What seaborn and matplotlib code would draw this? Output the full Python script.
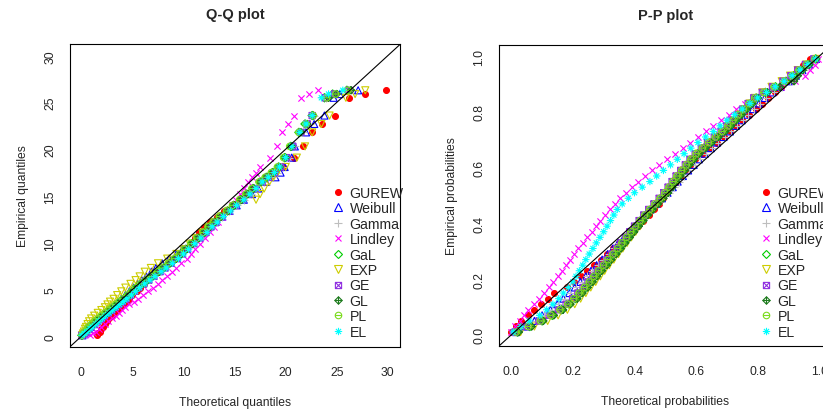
import seaborn as sns
import matplotlib.pyplot as plt
from matplotlib.path import Path
from matplotlib.lines import Line2D

models = ['GUREW', 'Weibull', 'Gamma', 'Lindley', 'GaL', 'EXP', 'GE', 'GL', 'PL', 'EL']

# Q-Q panel: sorted sample (empirical quantiles), shared by all models
qq_empirical = [0.1, 0.3, 0.5, 0.8, 1.0, 1.3, 1.6, 1.9, 2.2, 2.5, 2.8, 3.1, 3.4, 3.7, 4.0, 4.4, 4.8,
                5.2, 5.6, 6.0, 6.4, 6.9, 7.3, 7.8, 8.3, 8.8, 9.3, 9.9, 10.5, 11.1, 11.7, 12.2, 12.8,
                13.4, 14.0, 14.6, 15.2, 15.8, 16.5, 17.0, 17.5, 18.1, 19.1, 20.3, 21.8, 22.7, 23.6,
                25.5, 25.9, 26.3]

# theoretical quantiles of each fitted model
qq_gurew = [1.55, 1.65, 1.8, 1.95, 2.1, 2.3, 2.5, 2.7, 2.95, 3.2, 3.45, 3.75, 4.05, 4.35, 4.65, 5.0,
            5.4, 5.75, 6.15, 6.55, 6.95, 7.45, 7.9, 8.45, 9.0, 9.55, 10.05, 10.6, 11.1, 11.5, 12.0,
            12.6, 13.3, 14.0, 14.7, 15.4, 16.1, 16.8, 17.5, 18.1, 18.7, 19.7, 20.8, 21.7, 22.6,
            23.6, 24.8, 26.2, 27.8, 29.8]
qq_weibull = [0.1, 0.3, 0.5, 0.75, 0.95, 1.2, 1.5, 1.8, 2.1, 2.4, 2.7, 3.0, 3.3, 3.6, 3.9, 4.3, 4.7,
              5.1, 5.5, 5.9, 6.35, 6.85, 7.3, 7.9, 8.6, 9.3, 9.9, 10.6, 11.2, 11.9, 12.5, 13.1, 13.8,
              14.5, 15.2, 15.9, 16.7, 17.3, 18.1, 19.0, 19.5, 19.9, 20.6, 20.9, 22.0, 22.8, 23.8,
              24.7, 25.3, 27.1]
qq_gamma = [0.08, 0.3, 0.52, 0.8, 1.0, 1.3, 1.6, 1.9, 2.2, 2.55, 2.9, 3.2, 3.5, 3.85, 4.2, 4.6, 5.0,
            5.4, 5.85, 6.3, 6.8, 7.3, 7.8, 8.4, 9.0, 9.6, 10.2, 10.8, 11.4, 12.1, 12.6, 13.2, 13.8,
            14.5, 15.2, 15.9, 16.6, 17.2, 17.9, 18.6, 19.2, 19.7, 20.3, 20.9, 21.7, 22.4, 22.8,
            24.0, 24.7, 26.0]
qq_lindley = [0.8, 1.1, 1.4, 1.7, 1.95, 2.3, 2.65, 3.0, 3.35, 3.65, 3.95, 4.3, 4.7, 5.1, 5.5, 6.0,
              6.5, 7.0, 7.45, 7.9, 8.4, 8.9, 9.3, 9.8, 10.3, 10.7, 11.1, 11.6, 12.1, 12.6, 13.0,
              13.4, 13.8, 14.3, 14.7, 15.1, 15.5, 15.9, 16.3, 16.7, 17.1, 17.5, 18.5, 19.2, 19.6,
              20.2, 20.8, 21.5, 22.3, 23.2]
qq_gal = [0.05, 0.2, 0.4, 0.65, 0.8, 1.1, 1.4, 1.75, 2.05, 2.4, 2.75, 3.1, 3.45, 3.8, 4.15, 4.6, 5.0,
          5.4, 5.9, 6.4, 6.9, 7.5, 8.0, 8.6, 9.2, 9.7, 10.2, 10.8, 11.4, 12.0, 12.5, 13.0, 13.6,
          14.3, 14.9, 15.6, 16.2, 16.8, 17.5, 18.1, 18.7, 19.3, 19.9, 20.5, 21.3, 21.9, 22.6,
          23.8, 24.6, 26.0]
qq_exp = [0.05, 0.15, 0.25, 0.35, 0.45, 0.6, 0.75, 0.95, 1.25, 1.6, 1.95, 2.3, 2.55, 2.8, 3.15, 3.5,
          3.9, 4.3, 4.8, 5.3, 5.7, 6.2, 6.8, 7.5, 8.4, 9.3, 10.0, 10.6, 11.2, 11.8, 12.4, 13.0,
          13.7, 14.4, 15.2, 17.1, 17.5, 17.9, 18.4, 18.8, 19.2, 20.0, 21.1, 21.9, 22.6, 23.5,
          24.3, 25.9, 26.8, 27.8]
qq_ge = [0.05, 0.28, 0.5, 0.78, 0.97, 1.3, 1.6, 1.95, 2.25, 2.6, 2.95, 3.3, 3.65, 4.0, 4.35, 4.8,
         5.2, 5.6, 6.1, 6.6, 7.1, 7.7, 8.2, 8.8, 9.4, 9.9, 10.4, 11.0, 11.6, 12.2, 12.7, 13.2, 13.8,
         14.5, 15.1, 15.8, 16.4, 17.0, 17.7, 18.3, 18.9, 19.5, 20.1, 20.7, 21.5, 22.1, 22.6, 23.9,
         24.8, 26.2]
qq_gl = [0.05, 0.25, 0.45, 0.7, 0.9, 1.2, 1.5, 1.85, 2.15, 2.5, 2.85, 3.2, 3.55, 3.9, 4.25, 4.7,
         5.1, 5.5, 6.0, 6.5, 7.0, 7.6, 8.1, 8.7, 9.3, 9.8, 10.3, 10.9, 11.5, 12.1, 12.6, 13.1, 13.7,
         14.4, 15.0, 15.7, 16.3, 16.9, 17.6, 18.2, 18.8, 19.4, 20.0, 20.6, 21.5, 22.1, 22.7, 24.2,
         25.0, 26.4]
qq_pl = [0.05, 0.15, 0.35, 0.55, 0.7, 1.0, 1.3, 1.65, 1.95, 2.3, 2.65, 3.0, 3.35, 3.7, 4.05, 4.5,
         4.9, 5.3, 5.8, 6.3, 6.8, 7.4, 7.9, 8.5, 9.1, 9.6, 10.1, 10.7, 11.3, 11.9, 12.4, 12.9, 13.5,
         14.2, 14.8, 15.5, 16.1, 16.7, 17.4, 18.0, 18.6, 19.2, 19.8, 20.4, 21.3, 22.0, 22.7, 24.0,
         24.9, 26.1]
qq_el = [0.05, 0.3, 0.55, 0.85, 1.05, 1.4, 1.7, 2.05, 2.35, 2.7, 3.05, 3.4, 3.75, 4.1, 4.45, 4.9,
         5.3, 5.7, 6.2, 6.7, 7.2, 7.8, 8.3, 8.9, 9.5, 10.0, 10.5, 11.1, 11.7, 12.3, 12.8, 13.3, 13.9,
         14.6, 15.2, 15.9, 16.5, 17.1, 17.7, 18.3, 18.9, 19.4, 20.0, 20.6, 21.4, 22.0, 22.6, 23.5,
         24.2, 25.6]

# P-P panel: empirical probabilities, shared by all models
pp_empirical = [0.01, 0.03, 0.05, 0.07, 0.09, 0.11, 0.13, 0.15, 0.17, 0.19, 0.21, 0.23, 0.25, 0.27,
                0.29, 0.31, 0.33, 0.35, 0.37, 0.39, 0.41, 0.43, 0.45, 0.47, 0.49, 0.51, 0.53, 0.55,
                0.57, 0.59, 0.61, 0.63, 0.65, 0.67, 0.69, 0.71, 0.73, 0.75, 0.77, 0.79, 0.81, 0.83,
                0.85, 0.87, 0.89, 0.91, 0.93, 0.95, 0.97, 0.99]

# theoretical probabilities of each fitted model
pp_gurew = [0.0, 0.014, 0.033, 0.054, 0.075, 0.096, 0.118, 0.14, 0.18, 0.202, 0.225, 0.247, 0.268,
            0.29, 0.31, 0.33, 0.35, 0.37, 0.39, 0.41, 0.428, 0.446, 0.462, 0.478, 0.493, 0.504,
            0.519, 0.535, 0.55, 0.565, 0.581, 0.596, 0.619, 0.644, 0.667, 0.689, 0.71, 0.73, 0.75,
            0.772, 0.794, 0.815, 0.835, 0.855, 0.875, 0.895, 0.912, 0.929, 0.946, 0.97]
pp_weibull = [0.015, 0.045, 0.075, 0.10, 0.127, 0.149, 0.169, 0.188, 0.206, 0.224, 0.242, 0.259,
              0.277, 0.295, 0.313, 0.33, 0.347, 0.365, 0.382, 0.399, 0.417, 0.434, 0.452, 0.471,
              0.489, 0.507, 0.524, 0.54, 0.557, 0.574, 0.592, 0.609, 0.628, 0.648, 0.668, 0.689,
              0.71, 0.729, 0.748, 0.766, 0.785, 0.804, 0.823, 0.848, 0.874, 0.901, 0.924, 0.945,
              0.967, 0.989]
pp_gamma = [0.018, 0.05, 0.08, 0.105, 0.131, 0.153, 0.173, 0.192, 0.21, 0.228, 0.246, 0.263, 0.281,
            0.299, 0.317, 0.334, 0.351, 0.369, 0.386, 0.403, 0.421, 0.438, 0.456, 0.475, 0.493,
            0.511, 0.528, 0.544, 0.561, 0.578, 0.596, 0.613, 0.632, 0.652, 0.672, 0.693, 0.714,
            0.733, 0.752, 0.77, 0.789, 0.808, 0.827, 0.852, 0.878, 0.905, 0.928, 0.949, 0.97, 0.99]
pp_lindley = [0.0, 0.013, 0.027, 0.04, 0.055, 0.073, 0.091, 0.107, 0.121, 0.136, 0.15, 0.163, 0.177,
              0.19, 0.204, 0.218, 0.232, 0.246, 0.261, 0.275, 0.289, 0.304, 0.321, 0.338, 0.354,
              0.373, 0.391, 0.411, 0.433, 0.456, 0.481, 0.506, 0.531, 0.556, 0.581, 0.606, 0.631,
              0.656, 0.681, 0.706, 0.731, 0.758, 0.792, 0.83, 0.875, 0.92, 0.955, 0.971, 0.985, 0.997]
pp_gal = [0.02, 0.06, 0.10, 0.133, 0.163, 0.188, 0.208, 0.225, 0.242, 0.258, 0.273, 0.288, 0.304,
          0.319, 0.335, 0.35, 0.364, 0.379, 0.393, 0.408, 0.423, 0.438, 0.454, 0.471, 0.488, 0.503,
          0.517, 0.53, 0.543, 0.558, 0.573, 0.588, 0.605, 0.625, 0.645, 0.667, 0.689, 0.708, 0.725,
          0.742, 0.759, 0.777, 0.795, 0.825, 0.858, 0.892, 0.917, 0.939, 0.963, 0.988]
pp_exp = [0.03, 0.075, 0.118, 0.152, 0.182, 0.206, 0.225, 0.242, 0.258, 0.274, 0.289, 0.303, 0.318,
          0.333, 0.348, 0.362, 0.376, 0.39, 0.404, 0.418, 0.432, 0.447, 0.462, 0.478, 0.494, 0.508,
          0.521, 0.534, 0.547, 0.561, 0.576, 0.591, 0.608, 0.627, 0.647, 0.668, 0.69, 0.708, 0.724,
          0.741, 0.757, 0.774, 0.79, 0.815, 0.845, 0.878, 0.905, 0.93, 0.958, 0.99]
pp_ge = [0.012, 0.05, 0.09, 0.123, 0.153, 0.178, 0.199, 0.216, 0.233, 0.249, 0.265, 0.28, 0.296,
         0.311, 0.327, 0.342, 0.356, 0.371, 0.385, 0.4, 0.415, 0.43, 0.446, 0.463, 0.48, 0.495,
         0.509, 0.522, 0.535, 0.55, 0.565, 0.58, 0.597, 0.617, 0.637, 0.659, 0.681, 0.7, 0.717,
         0.734, 0.751, 0.769, 0.787, 0.815, 0.848, 0.882, 0.908, 0.93, 0.955, 0.982]
pp_gl = [0.024, 0.066, 0.104, 0.138, 0.168, 0.192, 0.214, 0.231, 0.248, 0.264, 0.279, 0.294, 0.31,
         0.325, 0.341, 0.356, 0.37, 0.385, 0.399, 0.414, 0.429, 0.444, 0.46, 0.477, 0.494, 0.509,
         0.523, 0.536, 0.549, 0.564, 0.579, 0.594, 0.611, 0.631, 0.651, 0.673, 0.695, 0.714, 0.731,
         0.748, 0.765, 0.783, 0.801, 0.832, 0.872, 0.918, 0.93, 0.946, 0.968, 0.99]
pp_pl = [0.015, 0.055, 0.095, 0.128, 0.158, 0.183, 0.203, 0.22, 0.237, 0.253, 0.268, 0.283, 0.299,
         0.314, 0.33, 0.345, 0.359, 0.374, 0.388, 0.403, 0.418, 0.433, 0.449, 0.466, 0.483, 0.498,
         0.512, 0.525, 0.538, 0.553, 0.568, 0.583, 0.6, 0.62, 0.64, 0.662, 0.684, 0.703, 0.72,
         0.737, 0.754, 0.772, 0.79, 0.82, 0.853, 0.887, 0.912, 0.934, 0.958, 0.985]
pp_el = [0.006, 0.031, 0.058, 0.092, 0.115, 0.135, 0.154, 0.169, 0.185, 0.20, 0.21, 0.221, 0.232,
         0.242, 0.253, 0.265, 0.276, 0.288, 0.30, 0.311, 0.322, 0.333, 0.344, 0.36, 0.38, 0.40,
         0.425, 0.45, 0.472, 0.494, 0.517, 0.539, 0.561, 0.583, 0.606, 0.631, 0.656, 0.678, 0.70,
         0.725, 0.75, 0.775, 0.80, 0.829, 0.857, 0.886, 0.912, 0.938, 0.963, 0.988]

qq_theory = [qq_gurew, qq_weibull, qq_gamma, qq_lindley, qq_gal, qq_exp, qq_ge, qq_gl, qq_pl, qq_el]
pp_theory = [pp_gurew, pp_weibull, pp_gamma, pp_lindley, pp_gal, pp_exp, pp_ge, pp_gl, pp_pl, pp_el]


def seg(a, b):
    return Path([a, b], [Path.MOVETO, Path.LINETO])


def closed(pts):
    return Path(pts + [pts[0]], [Path.MOVETO] + [Path.LINETO] * (len(pts) - 1) + [Path.CLOSEPOLY])


# R-like plotting symbols that matplotlib does not have
box_x = Path.make_compound_path(closed([(-1, -1), (1, -1), (1, 1), (-1, 1)]),
                                seg((-1, -1), (1, 1)), seg((-1, 1), (1, -1)))
diamond_plus = Path.make_compound_path(closed([(0, -1), (1, 0), (0, 1), (-1, 0)]),
                                       seg((0, -1), (0, 1)), seg((-1, 0), (1, 0)))
circle_bar = Path.make_compound_path(Path.unit_circle(), seg((-1, 0), (1, 0)))
asterisk = Path.make_compound_path(seg((-1, 0), (1, 0)), seg((0, -1), (0, 1)),
                                   seg((-0.7, -0.7), (0.7, 0.7)), seg((-0.7, 0.7), (0.7, -0.7)))

# marker, colour, kind (filled / open / line), size
styles = {
    'GUREW': ('o', '#FF0000', 'filled', 18),
    'Weibull': ('^', '#0000FF', 'open', 26),
    'Gamma': ('+', '#BEBEBE', 'line', 30),
    'Lindley': ('x', '#FF00FF', 'line', 20),
    'GaL': ('D', '#00CD00', 'open', 18),
    'EXP': ('v', '#CDCD00', 'open', 26),
    'GE': (box_x, '#9030E0', 'open', 20),
    'GL': (diamond_plus, '#1E7B1E', 'open', 28),
    'PL': (circle_bar, '#7CDC1E', 'open', 22),
    'EL': (asterisk, '#00FFFF', 'open', 28),
}

FS = 8.7
LEG_FS = 10.2


def draw_points(ax, theory, empirical):
    for name, xs in zip(models, theory):
        m, c, kind, s = styles[name]
        kw = dict(marker=m, s=s, color=c, linewidth=0.8, legend=False, ax=ax)
        if kind == 'filled':
            kw['edgecolor'] = c
        elif kind == 'open':
            kw['facecolor'] = 'none'
            kw['edgecolor'] = c
        sns.scatterplot(x=xs, y=empirical, **kw)
    ax.axline((0, 0), slope=1, color='black', linewidth=0.8, zorder=5)


def legend_handles():
    handles = []
    for name in models:
        m, c, kind, s = styles[name]
        handles.append(Line2D([], [], linestyle='none', marker=m, color=c,
                              markerfacecolor=c if kind == 'filled' else 'none',
                              markeredgecolor=c, markeredgewidth=0.8,
                              markersize=s ** 0.5, label=name))
    return handles


def style_axes(ax):
    for sp in ax.spines.values():
        sp.set_visible(True)
        sp.set_color('black')
        sp.set_linewidth(0.8)
    ax.tick_params(direction='out', length=5, width=0.8, color='black', labelsize=FS)
    ax.tick_params(axis='x', pad=8.5)
    ax.tick_params(axis='y', pad=5)
    plt.setp(ax.get_yticklabels(), rotation=90, va='center')
    ax.grid(False)


def add_legend(ax, fig, x_px, y_px, W, H):
    ax.legend(handles=legend_handles(), loc='upper left',
              bbox_to_anchor=(x_px / W, 1 - y_px / H), bbox_transform=fig.transFigure,
              frameon=False, borderpad=0, borderaxespad=0, handlelength=0.85,
              handletextpad=0.4, labelspacing=0.1, fontsize=LEG_FS)


if __name__ == "__main__":
    sns.set_style("white")
    plt.rcParams['font.family'] = ['Liberation Sans', 'DejaVu Sans']

    W, H = 823, 414
    fig = plt.figure(figsize=(W / 100, H / 100), dpi=100)
    ax_qq = fig.add_axes([70 / W, 1 - 348 / H, 330 / W, 303 / H])
    ax_pp = fig.add_axes([499 / W, 1 - 347 / H, 332.6 / W, 301 / H])

    # Q-Q plot
    draw_points(ax_qq, qq_theory, qq_empirical)
    ax_qq.set_xlim(-1.12, 31.2)
    ax_qq.set_ylim(-1.15, 31.25)
    ax_qq.set_xticks([0, 5, 10, 15, 20, 25, 30])
    ax_qq.set_yticks([0, 5, 10, 15, 20, 25, 30])
    style_axes(ax_qq)
    ax_qq.set_title('Q-Q plot', fontsize=10.5, fontweight='bold', pad=19)
    ax_qq.set_xlabel('Theoretical quantiles', fontsize=FS, labelpad=13)
    ax_qq.set_ylabel('Empirical quantiles', fontsize=FS, labelpad=11)
    add_legend(ax_qq, fig, 332, 187, W, H)

    # P-P plot
    draw_points(ax_pp, pp_theory, pp_empirical)
    ax_pp.set_xlim(-0.04, 1.04)
    ax_pp.set_ylim(-0.04, 1.04)
    ticks = [0.0, 0.2, 0.4, 0.6, 0.8, 1.0]
    ax_pp.set_xticks(ticks, [f'{t:.1f}' for t in ticks])
    ax_pp.set_yticks(ticks, [f'{t:.1f}' for t in ticks])
    style_axes(ax_pp)
    ax_pp.set_title('P-P plot', fontsize=10.5, fontweight='bold', pad=19)
    ax_pp.set_xlabel('Theoretical probabilities', fontsize=FS, labelpad=13)
    ax_pp.set_ylabel('Empirical probabilities', fontsize=FS, labelpad=11)
    add_legend(ax_pp, fig, 760, 187, W, H)

    fig.savefig('out.png', dpi=100)
    plt.close(fig)
